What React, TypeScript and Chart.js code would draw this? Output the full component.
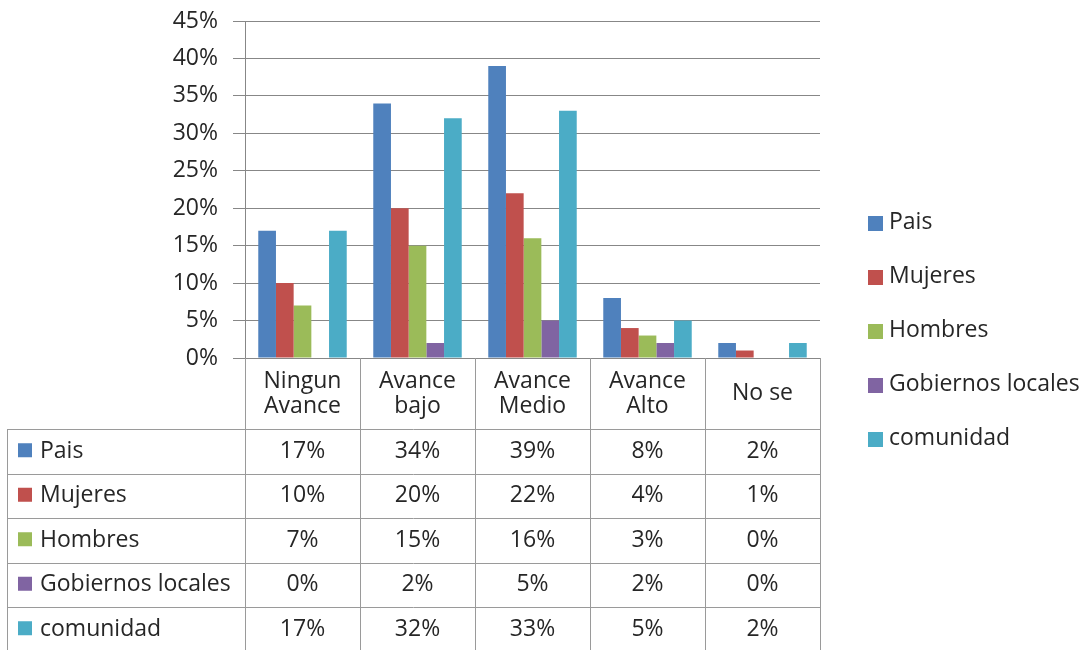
import React, { useEffect, useRef } from 'react';
import { Chart, registerables } from 'chart.js';

Chart.register(...registerables);

const categories: string[][] = [
  ['Ningun', 'Avance'],
  ['Avance', 'bajo'],
  ['Avance', 'Medio'],
  ['Avance', 'Alto'],
  ['No se'],
];
const seriesNames = ['Pais', 'Mujeres', 'Hombres', 'Gobiernos locales', 'comunidad'];
const pais = [17, 34, 39, 8, 2];
const mujeres = [10, 20, 22, 4, 1];
const hombres = [7, 15, 16, 3, 0];
const gobiernos = [0, 2, 5, 2, 0];
const comunidad = [17, 32, 33, 5, 2];
const seriesValues = [pais, mujeres, hombres, gobiernos, comunidad];
const colors = ['#4F81BD', '#C0504D', '#9BBB59', '#8064A2', '#4BACC6'];
const yMax = 45;
const yStep = 5;

const FONT = '"Open Sans", sans-serif';
const FONT_SIZE = 23;
const TEXT = '#262626';
const LINE = '#9a9a9a';

const tablePlugin = {
  id: 'dataTable',
  afterDraw(chart: any) {
    const ctx = chart.ctx as CanvasRenderingContext2D;
    const xs = chart.scales.x;
    const ys = chart.scales.y;
    const n = categories.length;
    const c0 = xs.getPixelForValue(0);
    const c1 = xs.getPixelForValue(1);
    const colW = c1 - c0;
    const left = c0 - colW / 2;
    const right = left + colW * n;
    const top = ys.bottom;
    const headerH = 71;
    const rowH = 44.5;
    const tableLeft = 7;
    const bodyTop = top + headerH;
    const bottom = bodyTop + rowH * seriesNames.length;

    ctx.save();
    ctx.strokeStyle = LINE;
    ctx.lineWidth = 1;
    ctx.beginPath();
    for (let i = 0; i <= n; i++) {
      const x = Math.round(left + colW * i) + 0.5;
      ctx.moveTo(x, top);
      ctx.lineTo(x, bottom);
    }
    ctx.moveTo(tableLeft + 0.5, bodyTop);
    ctx.lineTo(tableLeft + 0.5, bottom);
    for (let r = 0; r <= seriesNames.length; r++) {
      const y = Math.round(bodyTop + rowH * r) + 0.5;
      ctx.moveTo(tableLeft, y);
      ctx.lineTo(right, y);
    }
    ctx.stroke();

    ctx.fillStyle = TEXT;
    ctx.font = `${FONT_SIZE}px ${FONT}`;
    ctx.textAlign = 'center';
    ctx.textBaseline = 'middle';
    const hc = top + headerH / 2;
    categories.forEach((lines, i) => {
      const cx = xs.getPixelForValue(i);
      const lh = 25;
      lines.forEach((ln, k) => {
        const y = hc + (k - (lines.length - 1) / 2) * lh;
        ctx.fillText(ln, cx, y);
      });
    });
    seriesNames.forEach((name, r) => {
      const cy = bodyTop + rowH * r + rowH / 2;
      ctx.fillStyle = colors[r];
      ctx.fillRect(18, cy - 8, 14, 14);
      ctx.fillStyle = TEXT;
      ctx.textAlign = 'left';
      ctx.fillText(name, 40, cy);
      ctx.textAlign = 'center';
      seriesValues[r].forEach((v, i) => {
        ctx.fillText(v + '%', xs.getPixelForValue(i), cy);
      });
    });

    const legX = 868;
    const legY0 = 222;
    const legStep = 54;
    ctx.textAlign = 'left';
    seriesNames.forEach((name, i) => {
      const cy = legY0 + legStep * i;
      ctx.fillStyle = colors[i];
      ctx.fillRect(legX, cy - 6, 15, 15);
      ctx.fillStyle = TEXT;
      ctx.fillText(name, legX + 21, cy);
    });
    ctx.restore();
  },
};

export default function App() {
  const ref = useRef<HTMLCanvasElement | null>(null);
  useEffect(() => {
    if (!ref.current) return;
    const chart = new Chart(ref.current, {
      type: 'bar',
      data: {
        labels: categories.map((c) => c.join(' ')),
        datasets: seriesNames.map((name, i) => ({
          label: name,
          data: seriesValues[i],
          backgroundColor: colors[i],
          borderWidth: 0,
          barPercentage: 1,
          categoryPercentage: 5 / 6.5,
        })),
      },
      options: {
        animation: false,
        responsive: true,
        maintainAspectRatio: false,
        layout: { padding: { top: 0, right: 269, bottom: 292, left: 0 } },
        plugins: {
          legend: { display: false },
          tooltip: { enabled: false },
        },
        scales: {
          x: {
            grid: { display: false, drawTicks: false },
            border: { display: false },
            ticks: { display: false },
          },
          y: {
            min: 0,
            max: yMax,
            afterFit: (s: any) => {
              s.width = 245;
              s.paddingTop = 21;
              s.paddingBottom = 0;
            },
            ticks: {
              stepSize: yStep,
              padding: 15,
              color: TEXT,
              font: { family: FONT, size: FONT_SIZE },
              callback: (v: any) => v + '%',
            },
            grid: { color: '#878787', tickLength: 12, lineWidth: 1 },
            border: { color: '#878787' },
          },
        },
      },
      plugins: [tablePlugin],
    });
    return () => chart.destroy();
  }, []);
  return (
    <div style={{ position: 'fixed', left: 0, top: 0, width: 1089, height: 650, background: '#fff' }}>
      <canvas ref={ref} />
    </div>
  );
}
